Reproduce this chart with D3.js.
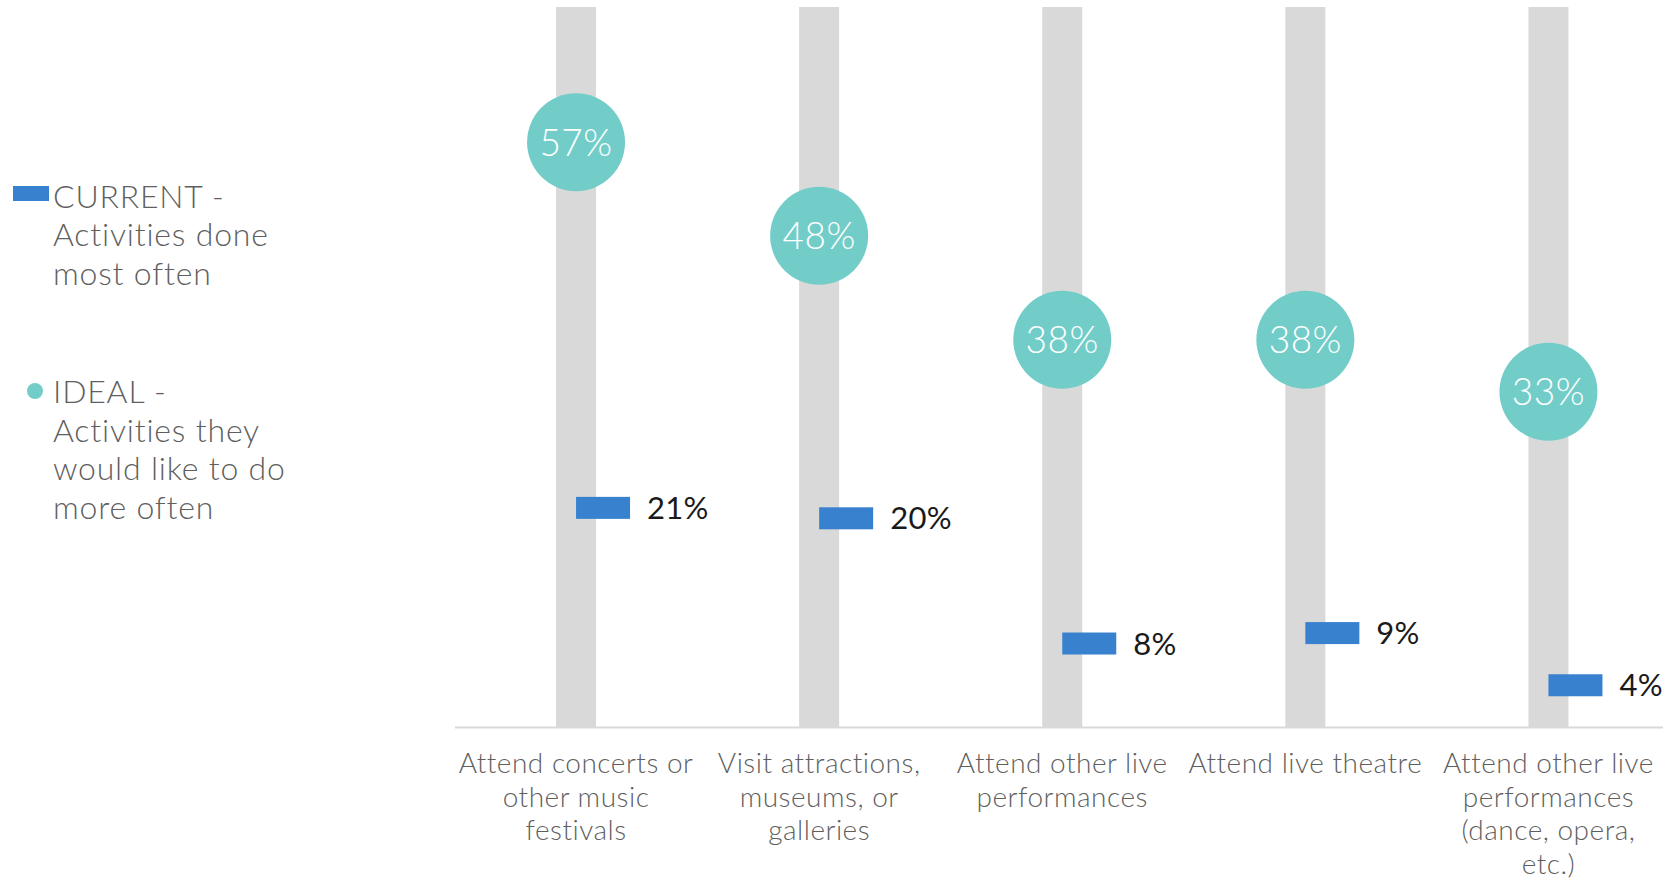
<!DOCTYPE html>
<html>
<head>
<meta charset="utf-8">
<script src="https://cdn.jsdelivr.net/npm/d3@7"></script>
<style>
  html, body { margin: 0; padding: 0; background: #ffffff; }
  svg { display: block; font-family: Lato, "Noto Sans", sans-serif; }
</style>
</head>
<body>
<svg id="chart" width="1663" height="879"></svg>
<script>
// Activity categories (line breaks mark where each label wraps)
const categories = [
  "Attend concerts or\nother music\nfestivals",
  "Visit attractions,\nmuseums, or\ngalleries",
  "Attend other live\nperformances",
  "Attend live theatre",
  "Attend other live\nperformances\n(dance, opera,\netc.)"
];

// Share of respondents
const currentValues = [0.21, 0.20, 0.08, 0.09, 0.04];
const idealValues   = [0.57, 0.48, 0.38, 0.38, 0.33];

// Legend entries
const legendCurrent = ["CURRENT -", "Activities done", "most often"];
const legendIdeal   = ["IDEAL -", "Activities they", "would like to do", "more often"];

const W = 1663, H = 879;
const plot = { left: 454.5, right: 1670, top: 7, bottom: 727 };

const colors = {
  track: "#d9d9d9",
  current: "#3781cf",
  ideal: "#72cdc9",
  axisText: "#5f5f5f",
  valueText: "#1a1a1a"
};

const svg = d3.select("#chart");

const x = d3.scaleBand()
  .domain(categories)
  .range([plot.left, plot.right])
  .paddingInner(0)
  .paddingOuter(0);

// Primary axis for the current series, secondary axis for the ideal series
const yCurrent = d3.scaleLinear().domain([0, 0.69]).range([plot.bottom, plot.top]);
const yIdeal   = d3.scaleLinear().domain([0, 0.70]).range([plot.bottom + 8, plot.top]);

const fmt = d3.format(".0%");
const cx = d => x(d) + x.bandwidth() / 2;

const rows = categories.map((c, i) => ({ cat: c, current: currentValues[i], ideal: idealValues[i] }));

// Grey tracks behind each category
const trackW = 40;
svg.append("g").selectAll("rect")
  .data(rows)
  .join("rect")
  .attr("x", d => cx(d.cat) - trackW / 2)
  .attr("y", yCurrent.range()[1])
  .attr("width", trackW)
  .attr("height", yCurrent.range()[0] - yCurrent.range()[1])
  .attr("fill", colors.track);

// Category axis
const axis = svg.append("g")
  .attr("transform", `translate(0,${plot.bottom})`)
  .call(d3.axisBottom(x).tickSize(0).tickPadding(0));

axis.select(".domain")
  .attr("stroke", colors.track)
  .attr("stroke-width", 2);

axis.selectAll(".tick text").each(function (d) {
  const t = d3.select(this);
  const lines = d.split("\n");
  t.text(null)
    .attr("y", 0)
    .attr("dy", null)
    .attr("fill", colors.axisText)
    .attr("font-size", 28)
    .attr("font-weight", 300)
    .attr("letter-spacing", "0.5px")
    .attr("font-family", "Lato, 'Noto Sans', sans-serif")
    .attr("text-anchor", "middle");
  lines.forEach((ln, k) => {
    t.append("tspan")
      .attr("x", 0)
      .attr("y", 46 + k * 33.6)
      .text(ln);
  });
});

// Current series: short horizontal bars starting at the category centre
const barW = 54, barH = 22;
svg.append("g").selectAll("rect")
  .data(rows)
  .join("rect")
  .attr("x", d => cx(d.cat))
  .attr("y", d => yCurrent(d.current) - barH / 2)
  .attr("width", barW)
  .attr("height", barH)
  .attr("fill", colors.current);

svg.append("g").selectAll("text")
  .data(rows)
  .join("text")
  .attr("x", d => cx(d.cat) + barW + 17)
  .attr("y", d => yCurrent(d.current))
  .attr("dy", "0.36em")
  .attr("font-size", 31)
  .attr("font-weight", 400)
  .attr("letter-spacing", "0.3px")
  .attr("fill", colors.valueText)
  .text(d => fmt(d.current));

// Ideal series: circles with the value inside
const r = 49;
svg.append("g").selectAll("circle")
  .data(rows)
  .join("circle")
  .attr("cx", d => cx(d.cat))
  .attr("cy", d => yIdeal(d.ideal))
  .attr("r", r)
  .attr("fill", colors.ideal);

svg.append("g").selectAll("text")
  .data(rows)
  .join("text")
  .attr("x", d => cx(d.cat))
  .attr("y", d => yIdeal(d.ideal))
  .attr("dy", "0.36em")
  .attr("text-anchor", "middle")
  .attr("font-size", 37)
  .attr("font-weight", 300)
  .attr("letter-spacing", "0.5px")
  .attr("fill", "#ffffff")
  .text(d => fmt(d.ideal));

// Legend
const legend = svg.append("g");
const lineH = 38.7;

legend.append("rect")
  .attr("x", 13).attr("y", 186)
  .attr("width", 36).attr("height", 15)
  .attr("fill", colors.current);

legend.append("circle")
  .attr("cx", 35).attr("cy", 391)
  .attr("r", 8)
  .attr("fill", colors.ideal);

function legendText(lines, baseline) {
  const t = legend.append("text")
    .attr("font-size", 32)
    .attr("font-weight", 300)
    .attr("letter-spacing", "0.8px")
    .attr("fill", colors.axisText);
  lines.forEach((ln, k) => {
    t.append("tspan")
      .attr("x", 53)
      .attr("y", baseline + k * lineH)
      .text(ln);
  });
}
legendText(legendCurrent, 207.5);
legendText(legendIdeal, 403);
</script>
</body>
</html>
